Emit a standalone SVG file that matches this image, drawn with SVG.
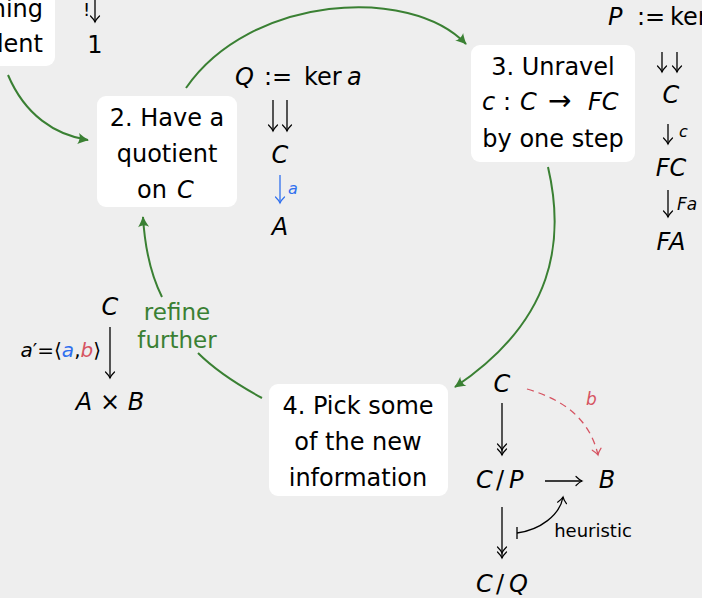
<svg xmlns="http://www.w3.org/2000/svg" width="702" height="598" viewBox="0 0 702 598">
<style>
.t{font-family:"DejaVu Sans","Liberation Sans",sans-serif;font-size:24px;fill:#000}
.i{font-style:italic}
.s{font-size:20px}
.box{fill:#fff}
.g{fill:none;stroke:#3a8033;stroke-width:2}
.k{fill:none;stroke:#000;stroke-width:1.3}
.blue{fill:#3070ee}
.red{fill:#d65462}
</style>
<defs>
<marker id="gh" markerUnits="userSpaceOnUse" viewBox="-12 -7 14 14" markerWidth="14" markerHeight="14" refX="0" refY="0" orient="auto">
<path d="M1,0 C-3,-1.5 -7,-3.5 -10,-5.5 C-8,-2.5 -8,2.5 -10,5.5 C-7,3.5 -3,1.5 1,0 Z" fill="#3a8033"/>
</marker>
<marker id="to" markerUnits="userSpaceOnUse" viewBox="-8 -6 10 12" markerWidth="10" markerHeight="12" refX="0" refY="0" orient="auto">
<path d="M-6,-4.5 C-3.5,-2 -1.5,-0.6 0,0 C-1.5,0.6 -3.5,2 -6,4.5" fill="none" stroke="#000" stroke-width="1.2" stroke-linecap="round"/>
</marker>
<marker id="toBlue" markerUnits="userSpaceOnUse" viewBox="-8 -6 10 12" markerWidth="10" markerHeight="12" refX="0" refY="0" orient="auto">
<path d="M-6,-4.5 C-3.5,-2 -1.5,-0.6 0,0 C-1.5,0.6 -3.5,2 -6,4.5" fill="none" stroke="#3070ee" stroke-width="1.2" stroke-linecap="round"/>
</marker>
<marker id="toRed" markerUnits="userSpaceOnUse" viewBox="-8 -6 10 12" markerWidth="10" markerHeight="12" refX="0" refY="0" orient="auto">
<path d="M-6,-4.5 C-3.5,-2 -1.5,-0.6 0,0 C-1.5,0.6 -3.5,2 -6,4.5" fill="none" stroke="#d65462" stroke-width="1.2" stroke-linecap="round"/>
</marker>
<marker id="two" markerUnits="userSpaceOnUse" viewBox="-13 -6 15 12" markerWidth="15" markerHeight="12" refX="0" refY="0" orient="auto">
<path d="M-6,-4.5 C-3.5,-2 -1.5,-0.6 0,0 C-1.5,0.6 -3.5,2 -6,4.5 M-11,-4.5 C-8.5,-2 -6.5,-0.6 -5,0 C-6.5,0.6 -8.5,2 -11,4.5" fill="none" stroke="#000" stroke-width="1.2" stroke-linecap="round"/>
</marker>
</defs>
<rect x="0" y="0" width="702" height="598" fill="#eeeeee"/>

<g id="connectors">
<path class="g" d="M8,75 C25,115 55,135 88,140" marker-end="url(#gh)"/>
<path class="g" d="M186,88 C250,-5 410,-15 466,44" marker-end="url(#gh)"/>
<path class="g" d="M548,167 C565,240 555,320 455,387" marker-end="url(#gh)"/>
<path class="g" d="M262,398 C240,386 216,371 198,353"/>
<path class="g" d="M162,297 C151,275 145,250 143,217" marker-end="url(#gh)"/>
<line class="k" x1="95" y1="-5" x2="95" y2="22" marker-end="url(#to)"/>
<line class="k" x1="273" y1="100" x2="273" y2="131" marker-end="url(#to)"/>
<line class="k" x1="287" y1="100" x2="287" y2="131" marker-end="url(#to)"/>
<line x1="280" y1="175" x2="280" y2="203" stroke="#3070ee" stroke-width="1.3" marker-end="url(#toBlue)"/>
<line class="k" x1="662" y1="52" x2="662" y2="72" marker-end="url(#to)"/>
<line class="k" x1="677" y1="52" x2="677" y2="72" marker-end="url(#to)"/>
<line class="k" x1="668" y1="124" x2="668" y2="144" marker-end="url(#to)"/>
<line class="k" x1="668" y1="190" x2="668" y2="217" marker-end="url(#to)"/>
<line class="k" x1="110" y1="327" x2="110" y2="378" marker-end="url(#to)"/>
<line class="k" x1="502" y1="403" x2="502" y2="455" marker-end="url(#two)"/>
<line class="k" x1="502" y1="507" x2="502" y2="558" marker-end="url(#two)"/>
<line class="k" x1="545" y1="481" x2="582" y2="481" marker-end="url(#to)"/>
<path d="M527,389 C565,400 590,420 598,455" fill="none" stroke="#d65462" stroke-width="1.3" stroke-dasharray="7,5" marker-end="url(#toRed)"/>
<path class="k" d="M517,533 C540,530 560,515 563,497" marker-end="url(#to)"/>
<line class="k" x1="517" y1="527" x2="517" y2="539"/>
</g>

<g id="node1">
<rect class="box" x="-20" y="-20" width="75" height="86" rx="9"/>
<text class="t" x="43" y="17" text-anchor="end">hing</text>
<text class="t" x="43" y="52" text-anchor="end">lent</text>
</g>

<g id="node2">
<rect class="box" x="97" y="96" width="140" height="111" rx="9"/>
<text class="t" x="167" y="126" text-anchor="middle">2. Have a</text>
<text class="t" x="167" y="162" text-anchor="middle">quotient</text>
<text class="t" y="198"><tspan x="137">on</tspan><tspan x="177" class="i">C</tspan></text>
</g>

<g id="node3">
<rect class="box" x="471" y="45" width="164" height="117" rx="9"/>
<text class="t" x="553" y="75" text-anchor="middle">3. Unravel</text>
<text class="t" y="110"><tspan x="482" class="i">c</tspan><tspan x="503">:</tspan><tspan x="520" class="i">C</tspan><tspan x="548" style="font-size:28px">→</tspan><tspan x="588" class="i">FC</tspan></text>
<text class="t" x="553" y="147" text-anchor="middle">by one step</text>
</g>

<g id="node4">
<rect class="box" x="269" y="384" width="179" height="112" rx="9"/>
<text class="t" x="358" y="414" text-anchor="middle">4. Pick some</text>
<text class="t" x="358" y="450" text-anchor="middle">of the new</text>
<text class="t" x="358" y="486" text-anchor="middle">information</text>
</g>

<g id="label-refine">
<text class="t" x="177" y="320" text-anchor="middle" style="fill:#3a8033;font-size:23px">refine</text>
<text class="t" x="177" y="348" text-anchor="middle" style="fill:#3a8033;font-size:23px">further</text>
</g>

<g id="topleft-math">
<text class="t" x="83" y="16" style="font-size:18px">!</text>
<text class="t" x="95" y="53" text-anchor="middle">1</text>
</g>

<g id="q-column">
<text class="t" y="85"><tspan x="235" class="i">Q</tspan><tspan x="264">:=</tspan><tspan x="304">ker</tspan><tspan x="347" class="i">a</tspan></text>
<text class="t i" x="280" y="163" text-anchor="middle">C</text>
<text class="t i blue" x="288" y="194" style="font-size:16px">a</text>
<text class="t i" x="280" y="235" text-anchor="middle">A</text>
</g>

<g id="p-column">
<text class="t" y="25"><tspan x="608" class="i">P</tspan><tspan x="637">:=</tspan><tspan x="670">ker</tspan></text>
<text class="t i" x="671" y="103" text-anchor="middle">C</text>
<text class="t i" x="679" y="137" style="font-size:16px">c</text>
<text class="t i" x="671" y="176" text-anchor="middle">FC</text>
<text class="t i" x="677" y="210" style="font-size:17px">Fa</text>
<text class="t i" x="671" y="250" text-anchor="middle">FA</text>
</g>

<g id="aprime">
<text class="t i" x="110" y="315" text-anchor="middle">C</text>
<text class="t s" x="101" y="357" text-anchor="end"><tspan class="i">a</tspan>′=⟨<tspan class="i blue">a</tspan>,<tspan class="i red">b</tspan>⟩</text>
<text class="t" x="110" y="410" text-anchor="middle"><tspan class="i">A</tspan> × <tspan class="i">B</tspan></text>
</g>

<g id="quotients">
<text class="t i" x="502" y="392" text-anchor="middle">C</text>
<text class="t i red" x="586" y="405" style="font-size:17px">b</text>
<text class="t" y="488"><tspan x="476" class="i">C</tspan><tspan x="496">/</tspan><tspan x="509" class="i">P</tspan></text>
<text class="t i" x="607" y="488" text-anchor="middle">B</text>
<text class="t" x="593" y="537" text-anchor="middle" style="font-size:18px">heuristic</text>
<text class="t" y="592"><tspan x="476" class="i">C</tspan><tspan x="496">/</tspan><tspan x="509" class="i">Q</tspan></text>
</g>
</svg>
